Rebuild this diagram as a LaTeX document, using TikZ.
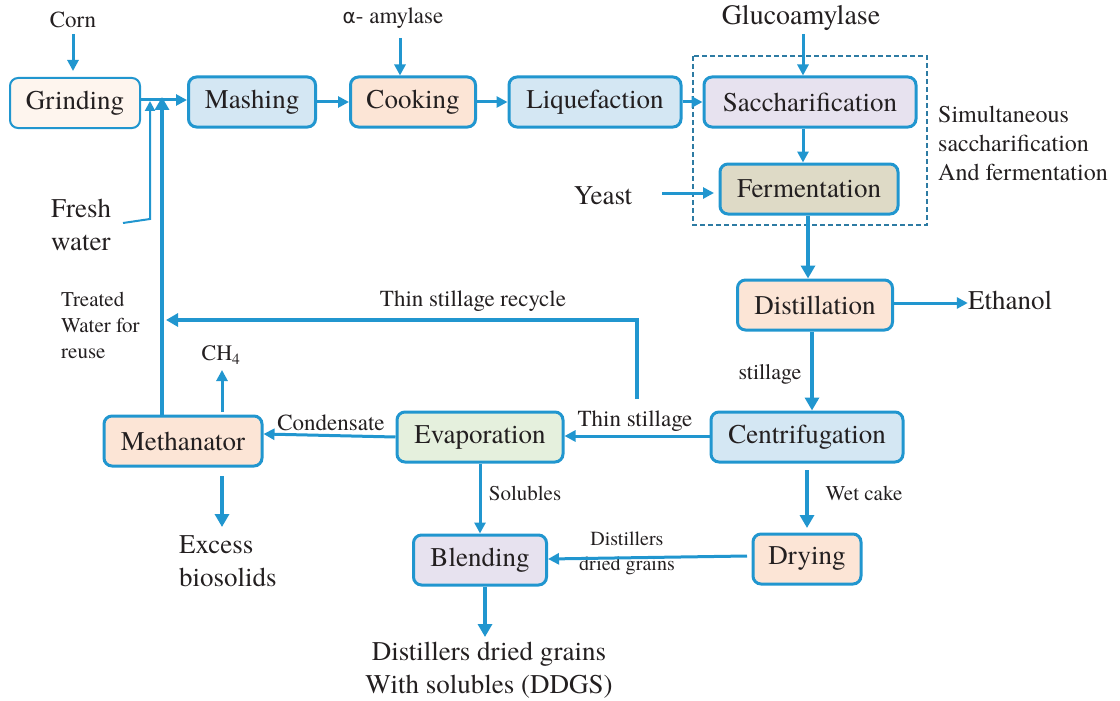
\documentclass[tikz,border=0pt]{standalone}
\usepackage{fontspec}
\setmainfont{texgyretermes}[Extension=.otf, UprightFont=*-regular, BoldFont=*-bold, ItalicFont=*-italic, BoldItalicFont=*-bolditalic]
\newfontfamily\greekfont{DejaVu Sans}
\usetikzlibrary{arrows.meta,calc}
\definecolor{lineblue}{HTML}{2196CF}
\definecolor{dashblue}{HTML}{2D7BA3}
\definecolor{txt}{HTML}{231F20}
\definecolor{fgrind}{HTML}{FEF5EE}
\definecolor{fpeach}{HTML}{FCE5D6}
\definecolor{fblue}{HTML}{D4E7F3}
\definecolor{flav}{HTML}{E7E2EF}
\definecolor{ftan}{HTML}{DEDAC6}
\definecolor{fgreen}{HTML}{E5F0DD}
\tikzset{
  box/.style={draw=lineblue, line width=3pt, rounded corners=8pt, minimum height=50pt,
    inner sep=0pt, font=\fontsize{27}{30}\selectfont, text=txt},
  biglab/.style={font=\fontsize{27}{33}\selectfont, text=txt, inner sep=0pt},
  smalllab/.style={font=\fontsize{22}{26}\selectfont, text=txt, inner sep=0pt},
  arr/.style={draw=lineblue, line width=3pt, -{Triangle[length=11pt,width=11pt]}},
  thickarr/.style={draw=lineblue, line width=4pt, -{Triangle[length=13pt,width=14pt]}},
  plainline/.style={draw=lineblue, line width=2pt},
}
\begin{document}
\begin{tikzpicture}[x=1pt,y=-1pt]
\useasboundingbox (0,0) rectangle (1120,701);
% dashed SSF box
\draw[dashblue, line width=1.6pt, dash pattern=on 5pt off 3pt] (693,56) rectangle (927,225);
% boxes
\node[box, line width=2pt, fill=fgrind, minimum width=130pt] (grind) at (75,103) {Grinding};
\node[box, fill=fblue, minimum width=127pt] (mash) at (252,102) {Mashing};
\node[box, fill=fpeach, minimum width=125pt] (cook) at (413,102) {Cooking};
\node[box, fill=fblue, minimum width=172pt] (liq) at (595,102) {Liquefaction};
\node[box, fill=flav, minimum width=212pt] (sacch) at (810,102) {Saccharification};
\node[box, fill=ftan, minimum width=178pt] (ferm) at (809,189) {Fermentation};
\node[box, fill=fpeach, minimum width=155pt] (dist) at (815,305) {Distillation};
\node[box, fill=fblue, minimum width=192pt] (cent) at (807,437) {Centrifugation};
\node[box, fill=fpeach, minimum width=108pt] (dry) at (807,559) {Drying};
\node[box, fill=fgreen, minimum width=166pt] (evap) at (480,437) {Evaporation};
\node[box, fill=flav, minimum width=133pt] (blend) at (480,560) {Blending};
\node[box, fill=fpeach, minimum width=158pt] (meth) at (183,441) {Methanator};
% labels
\node[smalllab, font=\fontsize{23}{26}\selectfont] (corn) at (73,20) {Corn};
\node[smalllab, font=\fontsize{23}{26}\selectfont] (amyl) at (393,18) {{\greekfont\fontsize{20}{24}\selectfont α}- amylase};
\node[biglab, font=\fontsize{28}{30}\selectfont] (gluc) at (801,18) {Glucoamylase};
\node[smalllab, font=\fontsize{24}{29}\selectfont, align=left, anchor=west] (ssf) at (938,143) {Simultaneous\\saccharification\\And fermentation};
\node[biglab] (yeast) at (603,196) {Yeast};
\node[biglab, align=left, anchor=west] (fresh) at (51,225) {Fresh\\water};
\node[smalllab, font=\fontsize{21}{26}\selectfont, align=left, anchor=west] (treated) at (61,325) {Treated\\Water for\\reuse};
\node[smalllab, font=\fontsize{23}{26}\selectfont] (tsrlab) at (473,301) {Thin stillage recycle};
\node[smalllab] (ch4) at (221,355) {CH\textsubscript{4}};
\node[smalllab, font=\fontsize{23}{26}\selectfont] (condlab) at (331,423) {Condensate};
\node[smalllab, font=\fontsize{23}{26}\selectfont] (tslab) at (635,421) {Thin stillage};
\node[biglab] (eth) at (1010,300) {Ethanol};
\node[smalllab] (stilllab) at (770,374) {stillage};
\node[smalllab, font=\fontsize{21}{26}\selectfont] (wclab) at (864,493) {Wet cake};
\node[smalllab, font=\fontsize{21}{26}\selectfont] (sollab) at (525,493) {Solubles};
\node[smalllab, font=\fontsize{20}{25}\selectfont, align=center] (ddglab) at (627,553) {Distillers\\dried grains};
\node[biglab, align=left, anchor=west] (excess) at (179,561) {Excess\\biosolids};
\node[biglab, align=center] (ddgs) at (489,670) {Distillers dried grains\\With solubles (DDGS)};
% coordinates
\coordinate (cornstart) at (73,34);
\coordinate (cornend) at (73,71);
\coordinate (fw0) at (123,223);
\coordinate (fw1) at (150,219);
\coordinate (fwtop) at (150,101);
\coordinate (twtop) at (162,97);
\coordinate (tsr1) at (637,399);
\coordinate (tsr2) at (166,320);
\coordinate (yst0) at (662,193);
\coordinate (yst1) at (714,193);
\coordinate (amyl0) at (400,38);
\coordinate (gluc0) at (803,34);
\coordinate (ch4a) at (222,412);
\coordinate (ch4b) at (222,370);
\coordinate (exa) at (222,476);
\coordinate (exb) at (222,527);
\coordinate (wca) at (807,470);
\coordinate (wcb) at (807,528);
\coordinate (dga) at (747,556);
\coordinate (ddgsb) at (485,637);
% connectors
\draw[arr] (cornstart) -- (cornend);
\draw[arr] (grind.east |- 0,100) -- (mash.west |- 0,100);
\draw[plainline, -{Triangle[length=10pt,width=10pt]}] (fw0) -- (fw1) -- (fwtop);
\draw[thickarr] (meth.north -| twtop) -- (twtop);
\draw[arr] (mash) -- (cook);
\draw[arr] (amyl0) -- (cook.north -| amyl0);
\draw[arr] (cook) -- (liq);
\draw[arr] (liq) -- (sacch);
\draw[arr] (gluc0) -- (sacch.north -| gluc0);
\draw[arr] (sacch.south -| 803,0) -- (ferm.north -| 803,0);
\draw[arr] (yst0) -- (yst1);
\draw[thickarr] (ferm.south -| 808,0) -- (dist.north -| 808,0);
\draw[arr] (dist.east |- 0,303) -- (eth.west |- 0,303);
\draw[thickarr, line width=3.5pt] (dist.south -| 812,0) -- (cent.north -| 812,0);
\draw[arr] (cent.west |- 0,436) -- (evap.east |- 0,436);
\draw[plainline, line width=3.5pt, -{Triangle[length=12pt,width=13pt]}] (tsr1) -- (tsr1 |- tsr2) -- (tsr2);
\draw[arr] (evap.west |- 0,437) -- (meth.east |- 0,434);
\draw[arr] (ch4a) -- (ch4b);
\draw[thickarr] (exa) -- (exb);
\draw[arr] (evap.south -| 480,0) -- (blend.north -| 480,0);
\draw[thickarr, line width=3.5pt] (wca) -- (wcb);
\draw[arr] (dga) -- (blend.east |- 0,559);
\draw[thickarr] (blend.south -| ddgsb) -- (ddgsb);
\end{tikzpicture}
\end{document}
